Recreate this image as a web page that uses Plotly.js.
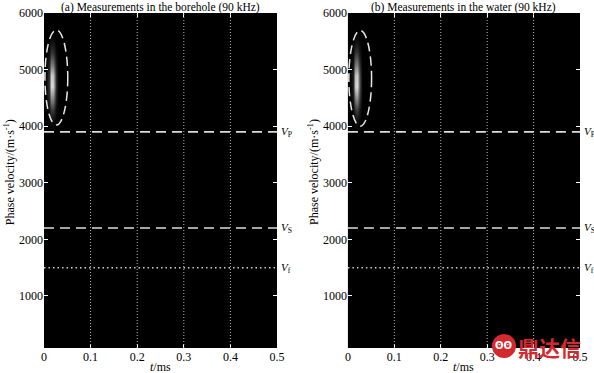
<!DOCTYPE html>
<html>
<head>
<meta charset="utf-8">
<script src="https://cdn.plot.ly/plotly-3.0.1.min.js"></script>
<style>html,body{margin:0;padding:0;background:#fff;}#chart{width:594px;height:373px;}</style>
</head>
<body>
<div id="chart"></div>
<script>
// ---- data ----
const panelTitles = ["(a) Measurements in the borehole (90 kHz)", "(b) Measurements in the water (90 kHz)"];
const xTicks = [0, 0.1, 0.2, 0.3, 0.4, 0.5];
const xTickText = ["0", "0.1", "0.2", "0.3", "0.4", "0.5"];
const yTicks = [1000, 2000, 3000, 4000, 5000, 6000];
const gridX = [0.1, 0.2, 0.3, 0.4];
const vP = 3900, vS = 2200, vF = 1500;
const waveLabels = ["<i>V</i><sub>P</sub>", "<i>V</i><sub>S</sub>", "<i>V</i><sub>f</sub>"];
const waveValues = [vP, vS, vF];

// energy blob (time grid, velocity grid, intensity)
const tGrid = [0, 0.005, 0.010, 0.015, 0.020, 0.025, 0.030, 0.035, 0.040];
const vGrid = [3900, 4100, 4300, 4500, 4700, 4900, 5100, 5300, 5500, 5700];
const zBorehole = [
  [0, 0,    0,    0,    0,    0,    0,    0, 0],
  [0, 0,    0.02, 0.06, 0.06, 0.02, 0,    0, 0],
  [0, 0.01, 0.06, 0.24, 0.24, 0.05, 0.01, 0, 0],
  [0, 0.02, 0.15, 0.55, 0.52, 0.12, 0.01, 0, 0],
  [0, 0.03, 0.22, 0.86, 0.82, 0.18, 0.02, 0, 0],
  [0, 0.03, 0.20, 0.80, 0.76, 0.16, 0.02, 0, 0],
  [0, 0.02, 0.12, 0.48, 0.45, 0.10, 0.01, 0, 0],
  [0, 0.01, 0.05, 0.20, 0.19, 0.04, 0,    0, 0],
  [0, 0,    0.01, 0.06, 0.06, 0.01, 0,    0, 0],
  [0, 0,    0,    0,    0,    0,    0,    0, 0]
];
const zWater = [
  [0, 0, 0,    0,    0,    0,    0,    0, 0],
  [0, 0, 0.01, 0.05, 0.07, 0.03, 0,    0, 0],
  [0, 0, 0.03, 0.20, 0.26, 0.08, 0.01, 0, 0],
  [0, 0, 0.08, 0.48, 0.58, 0.18, 0.02, 0, 0],
  [0, 0, 0.12, 0.78, 0.88, 0.26, 0.02, 0, 0],
  [0, 0, 0.11, 0.72, 0.82, 0.24, 0.02, 0, 0],
  [0, 0, 0.07, 0.44, 0.50, 0.15, 0.01, 0, 0],
  [0, 0, 0.03, 0.18, 0.21, 0.06, 0,    0, 0],
  [0, 0, 0.01, 0.05, 0.06, 0.02, 0,    0, 0],
  [0, 0, 0,    0,    0,    0,    0,    0, 0]
];
// dashed ellipse bounds [t0, t1, v0, v1]
const ellipseA = [0.002, 0.051, 4020, 5700];
const ellipseB = [0.002, 0.051, 4000, 5690];

// ---- build ----
const serif = "Liberation Serif, Times New Roman, serif";
const gray = [[0, "#000000"], [1, "#ffffff"]];
const traces = [
  {type: "heatmap", x: tGrid, y: vGrid, z: zBorehole, colorscale: gray, zmin: 0, zmax: 1,
   zsmooth: "best", showscale: false, xaxis: "x", yaxis: "y", hoverinfo: "skip"},
  {type: "heatmap", x: tGrid, y: vGrid, z: zWater, colorscale: gray, zmin: 0, zmax: 1,
   zsmooth: "best", showscale: false, xaxis: "x2", yaxis: "y2", hoverinfo: "skip"}
];

function axX(domain, anchor) {
  return {domain: domain, anchor: anchor, range: [0, 0.5], tickvals: xTicks, ticktext: xTickText,
    ticks: "inside", ticklen: 4, tickwidth: 1, tickcolor: "#ffffff", mirror: "ticks",
    showgrid: false, zeroline: false, showline: false,
    tickfont: {family: serif, size: 12, color: "#000"}, fixedrange: true};
}
function axY(anchor) {
  return {domain: [0, 1], anchor: anchor, range: [80, 6000], tickvals: yTicks,
    ticks: "inside", ticklen: 4, tickwidth: 1, tickcolor: "#ffffff", mirror: "ticks",
    showgrid: false, zeroline: false, showline: false,
    tickfont: {family: serif, size: 12, color: "#000"}, fixedrange: true};
}

const shapes = [];
const annotations = [];
[["x", "y", ellipseA], ["x2", "y2", ellipseB]].forEach(([xr, yr, el], i) => {
  gridX.forEach(g => shapes.push({type: "line", xref: xr, yref: yr, x0: g, x1: g, y0: 80, y1: 6000,
    line: {color: "#b8b8b8", width: 1, dash: "1px,2px"}}));
  [vP, vS].forEach(v => shapes.push({type: "line", xref: xr, yref: yr, x0: 0, x1: 0.5, y0: v, y1: v,
    line: {color: "#dcdcdc", width: 1.6, dash: "10px,6px"}}));
  shapes.push({type: "line", xref: xr, yref: yr, x0: 0, x1: 0.5, y0: vF, y1: vF,
    line: {color: "#cfcfcf", width: 1.5, dash: "1.5px,3px"}});
  shapes.push({type: "circle", xref: xr, yref: yr, x0: el[0], x1: el[1], y0: el[2], y1: el[3],
    line: {color: "#e8e8e8", width: 1.5, dash: "9px,5px"}});
  waveLabels.forEach((lab, k) => annotations.push({xref: xr, yref: yr, x: 0.5, y: waveValues[k],
    text: lab, showarrow: false, xanchor: "left", yanchor: "middle", xshift: 2,
    font: {family: serif, size: 11, color: "#000"}}));
  annotations.push({xref: xr + " domain", yref: "paper", x: 0.5, y: 1, yanchor: "bottom", yshift: -3,
    text: panelTitles[i], showarrow: false, font: {family: serif, size: 11.5, color: "#000"}});
  annotations.push({xref: xr + " domain", yref: "paper", x: 0.5, y: 0, yanchor: "top", yshift: -10,
    text: "<i>t</i>/ms", showarrow: false, font: {family: serif, size: 12, color: "#000"}});
  annotations.push({xref: xr + " domain", yref: "paper", x: 0, y: 0.525, xanchor: "center",
    yanchor: "middle", xshift: -35, textangle: -90,
    text: "Phase velocity/(m·s<sup>-1</sup>)", showarrow: false,
    font: {family: serif, size: 12, color: "#000"}});
});

// watermark
shapes.push({type: "circle", xref: "paper", yref: "paper", x0: 0.8358, x1: 0.8806, y0: -0.030, y1: 0.042,
  fillcolor: "#d42a2f", line: {color: "#d42a2f", width: 0}, layer: "above"});
annotations.push({xref: "paper", yref: "paper", x: 0.8582, y: 0.006, text: "<b>ʘʘ</b>", showarrow: false,
  xanchor: "center", yanchor: "middle", font: {family: "DejaVu Sans", size: 10, color: "#fff"}});
annotations.push({xref: "paper", yref: "paper", x: 0.9435, y: 0.003, text: "<b>鼎达信</b>", showarrow: false,
  xanchor: "center", yanchor: "middle", font: {family: "Noto Sans CJK SC", size: 21, color: "#d42a2f"}});

const layout = {
  width: 594, height: 373,
  margin: {l: 44, r: 14, t: 13, b: 25},
  paper_bgcolor: "#ffffff", plot_bgcolor: "#000000",
  showlegend: false,
  xaxis: axX([0, 0.4347], "y"),
  yaxis: axY("x"),
  xaxis2: axX([0.567, 1], "y2"),
  yaxis2: axY("x2"),
  shapes: shapes,
  annotations: annotations
};
Plotly.newPlot("chart", traces, layout, {staticPlot: true, displayModeBar: false});
</script>
</body>
</html>
